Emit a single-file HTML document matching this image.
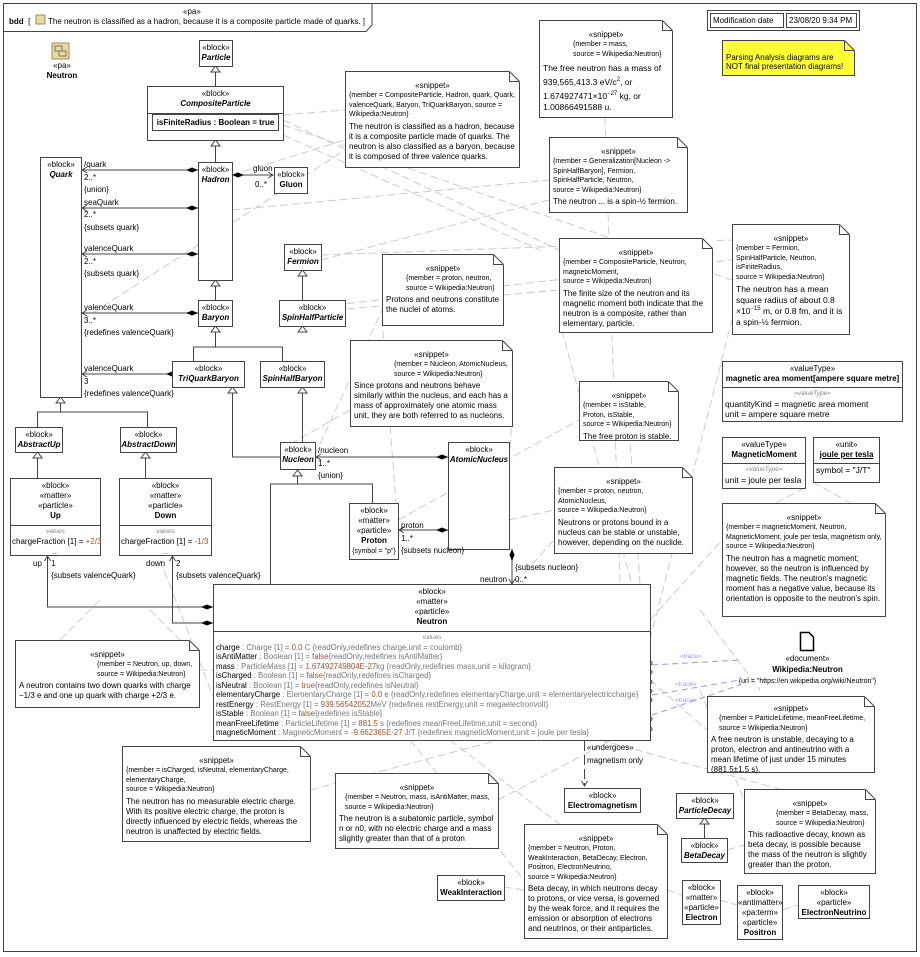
<!DOCTYPE html>
<html><head><meta charset="utf-8"><style>
*{margin:0;padding:0;box-sizing:border-box}
body{width:920px;height:957px;background:#fff;position:relative;overflow:hidden;font-family:"Liberation Sans",sans-serif;font-size:8px;color:#000}
sup{line-height:0;font-size:6px}
.a{position:absolute}
.b{position:absolute;border:1px solid #444;background:#fff;text-align:center;line-height:10px;padding-top:2px}
.b i{font-weight:bold}
.n{font-weight:bold}
.s{position:absolute;border:1px solid #444;background:#fff;line-height:10px;padding:3px 3px}
.s .h{text-align:center;margin-top:6px}
.s .m{font-size:7px;line-height:9.5px}
.s .t{font-size:8px;line-height:10px;margin-top:2px}
.f{position:absolute;right:-1px;top:-1px;width:11px;height:11px}
.c{border-top:1px solid #444;text-align:left;padding:1px 2px}
.g{color:#888;font-style:italic;font-size:6.5px;text-align:center}
.o{color:#a0522d}
.gr{color:#777}
</style></head><body>
<svg class="a" style="left:0;top:0" width="920" height="957">
<rect x="3.5" y="3.5" width="913" height="948" fill="none" stroke="#444"/>
<path d="M3.5,31.5 H366 L372,25 V3.5" fill="none" stroke="#444"/>
<g stroke="#ccc" stroke-dasharray="8,4" fill="none">
<path d="M283,115 L345,110"/><path d="M283,135 L540,250"/><path d="M232,175 L345,140"/>
<path d="M82,320 L345,150"/><path d="M232,210 L549,180"/><path d="M321,260 L549,200"/>
<path d="M335,310 L559,290"/><path d="M283,120 L559,250"/><path d="M650,650 L559,320"/>
<path d="M321,255 L732,240"/><path d="M335,305 L732,260"/><path d="M283,125 L732,280"/>
<path d="M650,640 L732,320"/><path d="M605,118 L620,584"/><path d="M315,455 L382,310"/>
<path d="M398,530 L382,320"/><path d="M280,450 L350,410"/><path d="M509,460 L512,420"/>
<path d="M398,520 L579,420"/><path d="M640,584 L630,440"/><path d="M509,520 L554,510"/>
<path d="M500,600 L554,540"/><path d="M650,620 L722,540"/><path d="M805,488 L722,530"/>
<path d="M813,482 L850,503"/><path d="M650,680 L707,730"/><path d="M199,670 L213,670"/>
<path d="M100,600 L60,640"/><path d="M150,610 L180,640"/><path d="M310,790 L650,700"/>
<path d="M498,800 L650,720"/><path d="M410,740 L524,880"/><path d="M504,887 L524,890"/>
<path d="M667,890 L682,895"/><path d="M720,900 L737,905"/><path d="M782,910 L798,905"/>
<path d="M727,850 L744,845"/><path d="M700,690 L744,800"/><path d="M160,560 L230,740"/>
<path d="M600,740 L820,800"/><path d="M450,740 L580,840"/><path d="M700,610 L760,690"/>
</g>
<g stroke="#99f" stroke-dasharray="6,4" fill="none"><path d="M652,665 L740,660"/><path d="M652,695 L740,680"/><path d="M652,715 L740,685"/></g>
<g font-size="6.5" fill="#99f" font-family="Liberation Sans"><text x="680" y="658">«trace»</text><text x="675" y="686">«trace»</text><text x="675" y="702">«trace»</text></g>
<g stroke="#444" fill="none">
<path d="M215.5,86 V66"/><path d="M215.5,162 V140"/><path d="M215.5,300 V280"/>
<path d="M302.5,300 V270"/>
<path d="M193.5,361 V347 H222.5 M215.5,347 V326 M222.5,347 H282.5 V361"/>
<path d="M232.5,387 V457 H280"/><path d="M302.5,387 V442"/>
<path d="M60.5,397 V412 M37.5,427 V412 H147.5 V427"/>
<path d="M37.5,452 V478"/><path d="M145.5,452 V478"/>
<path d="M297.5,470 V484 H270.5 V584 M297.5,484 H372.5 V503"/>
<path d="M704.5,838 V818"/>
<path d="M82,170 H198"/><path d="M82,208 H198"/><path d="M82,254 H198"/><path d="M82,313 H198"/><path d="M82,374 H178"/>
<path d="M232,175 H272"/>
<path d="M316,457 H448"/><path d="M399,530 H448"/>
<path d="M512,549 V584"/>
<path d="M47.5,556 V607 H213"/><path d="M172.5,556 V623 H213"/>
</g>
<g fill="#fff" stroke="#444">
<path d="M211,72 L215.5,66 L220,72Z"/>
<path d="M211,146 L215.5,140 L220,146Z"/><path d="M211,286 L215.5,280 L220,286Z"/>
<path d="M298,276 L302.5,270 L307,276Z"/><path d="M211,332 L215.5,326 L220,332Z"/>
<path d="M298,332 L302.5,326 L307,332Z"/><path d="M228,393 L232.5,387 L237,393Z"/>
<path d="M298,393 L302.5,387 L307,393Z"/><path d="M56,403 L60.5,397 L65,403Z"/>
<path d="M33,458 L37.5,452 L42,458Z"/><path d="M141,458 L145.5,452 L150,458Z"/>
<path d="M293,476 L297.5,470 L302,476Z"/><path d="M700,824 L704.5,818 L709,824Z"/>
</g>
<g fill="#000">
<path d="M198,170 l-6,-2.5 l-6,2.5 l6,2.5z"/><path d="M198,208 l-6,-2.5 l-6,2.5 l6,2.5z"/>
<path d="M198,254 l-6,-2.5 l-6,2.5 l6,2.5z"/><path d="M198,313 l-6,-2.5 l-6,2.5 l6,2.5z"/>
<path d="M178,374 l-6,-2.5 l-6,2.5 l6,2.5z"/><path d="M232,175 l6,-2.5 l6,2.5 l-6,2.5z"/>
<path d="M448,457 l-6,-2.5 l-6,2.5 l6,2.5z"/><path d="M448,530 l-6,-2.5 l-6,2.5 l6,2.5z"/>
<path d="M512,549 l-2.5,6 l2.5,6 l2.5,-6z"/>
<path d="M213,607 l-6,-2.5 l-6,2.5 l6,2.5z"/><path d="M213,623 l-6,-2.5 l-6,2.5 l6,2.5z"/>
</g>
<g stroke="#444" fill="none">
<path d="M87,167 L82,170 L87,173 M87,205 L82,208 L87,211 M87,251 L82,254 L87,257 M87,310 L82,313 L87,316 M87,371 L82,374 L87,377"/>
<path d="M268,172 L273,175 L268,178 M321,454 L316,457 L321,460 M404,527 L399,530 L404,533 M509,579 L512,584 L515,579"/>
<path d="M44.5,561 L47.5,556 L50.5,561 M169.5,561 L172.5,556 L175.5,561"/>
<path d="M584.5,741 V786" stroke-dasharray="10,4"/><path d="M581.5,781 L584.5,786 L587.5,781"/>
</g>
<path d="M800.5,632.5 H809 L813.5,637 V650.5 H800.5Z" fill="#fff" stroke="#000" stroke-width="1.5"/>
<g fill="#fff" stroke="#444"><circle cx="650" cy="663" r="2"/><circle cx="650" cy="672" r="2"/><circle cx="650" cy="682" r="2"/><circle cx="650" cy="691" r="2"/><circle cx="650" cy="700" r="2"/><circle cx="650" cy="719" r="2"/><circle cx="650" cy="729" r="2"/></g>
<rect x="52" y="43" width="17" height="16" fill="#e8d9a0" stroke="#a08c50"/>
<rect x="55" y="46" width="7" height="5" fill="none" stroke="#776"/><rect x="59" y="51" width="7" height="5" fill="none" stroke="#776"/>
<rect x="36" y="15" width="9" height="9" fill="#e8d9a0" stroke="#a08c50"/>
</svg>

<div class="a" style="left:183px;top:7px;">«pa»</div>
<div class="a" style="left:9px;top:17px;white-space:nowrap"><b>bdd</b> &nbsp;[ &nbsp;&nbsp;&nbsp;&nbsp;&nbsp;&nbsp; The neutron is classified as a hadron, because it is a composite particle made of quarks. ]</div>
<div class="a" style="left:44px;top:61px;width:36px;text-align:center;line-height:10px">«pa»<br><b>Neutron</b></div>

<div class="a" style="left:707px;top:10px;width:153px;height:21px;border:1px solid #444;white-space:nowrap">
<div class="a" style="left:2px;top:2px;width:74px;height:15px;border:1px solid #444;padding:2px 2px">Modification date</div>
<div class="a" style="left:78px;top:2px;width:71px;height:15px;border:1px solid #444;padding:2px 2px">23/08/20 9:34 PM</div></div>
<div class="s" style="left:722px;top:40px;width:133px;height:36px;background:#ffff33;padding-top:12px;line-height:9px">Parsing Analysis diagrams are NOT final presentation diagrams!<svg class="f"><path d="M0,0H11V11Z" fill="#fff"/><path d="M0.5,0.5V10.5H10.5M0.5,0.5L10.5,10.5" stroke="#444" fill="#ffff33"/></svg></div>

<div class="b" style="left:199px;top:40px;width:34px;height:27px">«block»<br><i>Particle</i></div>
<div class="b" style="left:147px;top:86px;width:137px;height:55px">«block»<br><i>CompositeParticle</i><div style="margin:5px 4px 0;border:1px solid #444;height:17px;padding-top:3px;font-weight:bold">isFiniteRadius : Boolean = true</div><div class="a" style="left:0;right:0;top:26px;border-top:1px solid #444"></div></div>
<div class="b" style="left:40px;top:157px;width:42px;height:241px">«block»<br><i>Quark</i></div>
<div class="b" style="left:198px;top:162px;width:35px;height:119px">«block»<br><i>Hadron</i></div>
<div class="b" style="left:274px;top:167px;width:34px;height:27px">«block»<br><b>Gluon</b></div>
<div class="b" style="left:284px;top:244px;width:38px;height:27px">«block»<br><i>Fermion</i></div>
<div class="b" style="left:198px;top:300px;width:35px;height:27px">«block»<br><i>Baryon</i></div>
<div class="b" style="left:279px;top:300px;width:67px;height:27px">«block»<br><i>SpinHalfParticle</i></div>
<div class="b" style="left:172px;top:361px;width:73px;height:27px">«block»<br><i>TriQuarkBaryon</i></div>
<div class="b" style="left:260px;top:361px;width:65px;height:27px">«block»<br><i>SpinHalfBaryon</i></div>
<div class="b" style="left:15px;top:427px;width:48px;height:26px">«block»<br><i>AbstractUp</i></div>
<div class="b" style="left:120px;top:427px;width:57px;height:26px">«block»<br><i>AbstractDown</i></div>
<div class="b" style="left:10px;top:478px;width:91px;height:78px">«block»<br>«matter»<br>«particle»<br><b>Up</b><div class="c" style="margin-top:4px;white-space:nowrap;padding:1px 1px"><div class="g">values</div>chargeFraction [1] = <span class="o">+2/3</span><div class="gr" style="text-align:center">...</div></div></div>
<div class="b" style="left:119px;top:478px;width:93px;height:78px">«block»<br>«matter»<br>«particle»<br><b>Down</b><div class="c" style="margin-top:4px;white-space:nowrap;padding:1px 1px"><div class="g">values</div>chargeFraction [1] = <span class="o">-1/3</span><div class="gr" style="text-align:center">...</div></div></div>
<div class="b" style="left:280px;top:442px;width:36px;height:28px">«block»<br><i>Nucleon</i></div>
<div class="b" style="left:448px;top:442px;width:62px;height:108px">«block»<br><i>AtomicNucleus</i></div>
<div class="b" style="left:349px;top:503px;width:50px;height:57px">«block»<br>«matter»<br>«particle»<br><b>Proton</b><br><span style="font-size:7px">{symbol = "p"}</span></div>
<div class="b" style="left:213px;top:584px;width:438px;height:157px">«block»<br>«matter»<br>«particle»<br><b>Neutron</b>
<div class="c" style="margin-top:4px;line-height:9.5px;font-size:7.8px;white-space:nowrap"><div class="g">values</div>
charge <span class="gr">: Charge [1] =</span> <span class="o">0.0</span> <span class="gr">C {readOnly,redefines charge,unit = coulomb}</span><br>
isAntiMatter <span class="gr">: Boolean [1] =</span> <span class="o">false</span><span class="gr">{readOnly,redefines isAntiMatter}</span><br>
mass <span class="gr">: ParticleMass [1] =</span> <span class="o">1.67492749804E-27</span><span class="gr">kg {readOnly,redefines mass,unit = kilogram}</span><br>
isCharged <span class="gr">: Boolean [1] =</span> <span class="o">false</span><span class="gr">{readOnly,redefines isCharged}</span><br>
isNeutral <span class="gr">: Boolean [1] =</span> <span class="o">true</span><span class="gr">{readOnly,redefines isNeutral}</span><br>
elementaryCharge <span class="gr">: ElementaryCharge [1] =</span> <span class="o">0.0</span> <span class="gr">e {readOnly,redefines elementaryCharge,unit = elementaryelectriccharge}</span><br>
restEnergy <span class="gr">: RestEnergy [1] =</span> <span class="o">939.56542052</span><span class="gr">MeV {redefines restEnergy,unit = megaelectronvolt}</span><br>
isStable <span class="gr">: Boolean [1] =</span> <span class="o">false</span><span class="gr">{redefines isStable}</span><br>
meanFreeLifetime <span class="gr">: ParticleLifetime [1] =</span> <span class="o">881.5</span> <span class="gr">s {redefines meanFreeLifetime,unit = second}</span><br>
magneticMoment <span class="gr">: MagneticMoment =</span> <span class="o">-9.662365E-27</span> <span class="gr">J/T {redefines magneticMoment,unit = joule per tesla}</span></div></div>

<div class="a" style="left:84px;top:159px;line-height:12.5px">/quark<br>2..*<br>{union}<br>seaQuark<br>2..*<br>{subsets quark}</div>
<div class="a" style="left:84px;top:243px;line-height:12.5px">valenceQuark<br>2..*<br>{subsets quark}</div>
<div class="a" style="left:84px;top:302px;line-height:12.5px">valenceQuark<br>3..*<br>{redefines valenceQuark}</div>
<div class="a" style="left:84px;top:363px;line-height:12.5px">valenceQuark<br>3<br>{redefines valenceQuark}</div>
<div class="a" style="left:253px;top:164px">gluon</div><div class="a" style="left:255px;top:180px">0..*</div>
<div class="a" style="left:318px;top:445px;line-height:12.5px">/nucleon<br>1..*<br>{union}</div>
<div class="a" style="left:401px;top:520px;line-height:12.5px">proton<br>1..*<br>{subsets nucleon}</div>
<div class="a" style="left:515px;top:563px">{subsets nucleon}</div>
<div class="a" style="left:480px;top:575px">neutron</div><div class="a" style="left:515px;top:575px">0..*</div>
<div class="a" style="left:33px;top:559px">up</div><div class="a" style="left:51px;top:559px">1</div><div class="a" style="left:51px;top:571px">{subsets valenceQuark}</div>
<div class="a" style="left:146px;top:559px">down</div><div class="a" style="left:176px;top:559px">2</div><div class="a" style="left:176px;top:571px">{subsets valenceQuark}</div>
<div class="a" style="left:587px;top:742px;line-height:12.5px">«undergoes»<br>magnetism only</div>

<div class="s" style="left:345px;top:71px;width:175px;height:97px"><div class="h">«snippet»</div><div class="m">{member = CompositeParticle, Hadron, quark, Quark, valenceQuark, Baryon, TriQuarkBaryon, source = Wikipedia:Neutron}</div><div class="t">The neutron is classified as a hadron, because it is a composite particle made of quarks. The neutron is also classified as a baryon, because it is composed of three valence quarks.</div><svg class="f"><path d="M0,0H11V11Z" fill="#fff"/><path d="M0.5,0.5V10.5H10.5M0.5,0.5L10.5,10.5" stroke="#444" fill="#fff"/></svg></div>
<div class="s" style="left:539px;top:20px;width:134px;height:98px"><div class="h">«snippet»</div><div class="m" style="padding-left:30px">{member = mass,<br>source = Wikipedia:Neutron}</div><div class="t" style="font-size:8.5px;line-height:14px">The free neutron has a mass of 939,565,413.3 eV/c<sup>2</sup>, or 1.674927471×10<sup>−27</sup> kg, or<br><span style="display:block;line-height:9px">1.00866491588 u.</span></div><svg class="f"><path d="M0,0H11V11Z" fill="#fff"/><path d="M0.5,0.5V10.5H10.5M0.5,0.5L10.5,10.5" stroke="#444" fill="#fff"/></svg></div>
<div class="s" style="left:549px;top:137px;width:139px;height:76px"><div class="h">«snippet»</div><div class="m">{member = Generalization[Nucleon -&gt; SpinHalfBaryon], Fermion,<br>SpinHalfParticle, Neutron,<br>source = Wikipedia:Neutron}</div><div class="t">The neutron ... is a spin-½ fermion.</div><svg class="f"><path d="M0,0H11V11Z" fill="#fff"/><path d="M0.5,0.5V10.5H10.5M0.5,0.5L10.5,10.5" stroke="#444" fill="#fff"/></svg></div>
<div class="s" style="left:382px;top:254px;width:122px;height:72px"><div class="h">«snippet»</div><div class="m" style="padding-left:20px">{member = proton, neutron,<br>source = Wikipedia:Neutron}</div><div class="t">Protons and neutrons constitute the nuclei of atoms.</div><svg class="f"><path d="M0,0H11V11Z" fill="#fff"/><path d="M0.5,0.5V10.5H10.5M0.5,0.5L10.5,10.5" stroke="#444" fill="#fff"/></svg></div>
<div class="s" style="left:559px;top:238px;width:154px;height:95px"><div class="h">«snippet»</div><div class="m">{member = CompositeParticle, Neutron, magneticMoment,<br>source = Wikipedia:Neutron}</div><div class="t">The finite size of the neutron and its magnetic moment both indicate that the neutron is a composite, rather than elementary, particle.</div><svg class="f"><path d="M0,0H11V11Z" fill="#fff"/><path d="M0.5,0.5V10.5H10.5M0.5,0.5L10.5,10.5" stroke="#444" fill="#fff"/></svg></div>
<div class="s" style="left:732px;top:224px;width:118px;height:111px"><div class="h">«snippet»</div><div class="m">{member = Fermion,<br>SpinHalfParticle, Neutron,<br>isFiniteRadius,<br>source = Wikipedia:Neutron}</div><div class="t" style="font-size:8.5px;line-height:11px">The neutron has a mean square radius of about 0.8 ×10<sup>−15</sup> m, or 0.8 fm, and it is a spin-½ fermion.</div><svg class="f"><path d="M0,0H11V11Z" fill="#fff"/><path d="M0.5,0.5V10.5H10.5M0.5,0.5L10.5,10.5" stroke="#444" fill="#fff"/></svg></div>
<div class="s" style="left:350px;top:340px;width:163px;height:87px"><div class="h">«snippet»</div><div class="m" style="padding-left:40px">{member = Nucleon, AtomicNucleus,<br>source = Wikipedia:Neutron}</div><div class="t">Since protons and neutrons behave similarly within the nucleus, and each has a mass of approximately one atomic mass unit, they are both referred to as nucleons.</div><svg class="f"><path d="M0,0H11V11Z" fill="#fff"/><path d="M0.5,0.5V10.5H10.5M0.5,0.5L10.5,10.5" stroke="#444" fill="#fff"/></svg></div>
<div class="s" style="left:579px;top:381px;width:100px;height:60px"><div class="h">«snippet»</div><div class="m">{member = isStable,<br>Proton, isStable,<br>source = Wikipedia:Neutron}</div><div class="t">The free proton is stable.</div><svg class="f"><path d="M0,0H11V11Z" fill="#fff"/><path d="M0.5,0.5V10.5H10.5M0.5,0.5L10.5,10.5" stroke="#444" fill="#fff"/></svg></div>
<div class="s" style="left:554px;top:467px;width:139px;height:87px"><div class="h">«snippet»</div><div class="m">{member = proton, neutron,<br>AtomicNucleus,<br>source = Wikipedia:Neutron}</div><div class="t">Neutrons or protons bound in a nucleus can be stable or unstable, however, depending on the nuclide.</div><svg class="f"><path d="M0,0H11V11Z" fill="#fff"/><path d="M0.5,0.5V10.5H10.5M0.5,0.5L10.5,10.5" stroke="#444" fill="#fff"/></svg></div>

<div class="b" style="left:722px;top:361px;width:181px;height:61px">«valueType»<br><b>magnetic area moment[ampere square metre]</b><div class="c" style="margin-top:3px;font-size:8.5px;line-height:10px"><div class="g">«valueType»</div>quantityKind = magnetic area moment<br>unit = ampere square metre</div></div>
<div class="b" style="left:722px;top:437px;width:84px;height:52px">«valueType»<br><b>MagneticMoment</b><div class="c" style="margin-top:3px;font-size:8.5px"><div class="g">«valueType»</div>unit = joule per tesla</div></div>
<div class="b" style="left:813px;top:437px;width:67px;height:46px">«unit»<br><b style="text-decoration:underline">joule per tesla</b><div class="c" style="margin-top:3px;font-size:8.5px">symbol = "J/T"</div></div>
<div class="s" style="left:722px;top:503px;width:164px;height:114px"><div class="h">«snippet»</div><div class="m">{member = magneticMoment, Neutron, MagneticMoment, joule per tesla, magnetism only,<br>source = Wikipedia:Neutron}</div><div class="t">The neutron has a magnetic moment, however, so the neutron is influenced by magnetic fields. The neutron's magnetic moment has a negative value, because its orientation is opposite to the neutron's spin.</div><svg class="f"><path d="M0,0H11V11Z" fill="#fff"/><path d="M0.5,0.5V10.5H10.5M0.5,0.5L10.5,10.5" stroke="#444" fill="#fff"/></svg></div>
<div class="a" style="left:730px;top:653px;width:155px;text-align:center;line-height:11px;white-space:nowrap">«document»<br><b>Wikipedia:Neutron</b><br><span style="font-size:7px">{url = "https://en.wikipedia.org/wiki/Neutron"}</span></div>
<div class="s" style="left:707px;top:696px;width:168px;height:77px;padding-top:1px"><div class="h">«snippet»</div><div class="m" style="padding-left:8px">{member = ParticleLifetime, meanFreeLifetime,<br>source = Wikipedia:Neutron}</div><div class="t">A free neutron is unstable, decaying to a proton, electron and antineutrino with a mean lifetime of just under 15 minutes (881.5±1.5 s).</div><svg class="f"><path d="M0,0H11V11Z" fill="#fff"/><path d="M0.5,0.5V10.5H10.5M0.5,0.5L10.5,10.5" stroke="#444" fill="#fff"/></svg></div>
<div class="s" style="left:15px;top:640px;width:185px;height:68px"><div class="h">«snippet»</div><div class="m" style="padding-left:78px">{member = Neutron, up, down,<br>source = Wikipedia:Neutron}</div><div class="t">A neutron contains two down quarks with charge −1/3 e and one up quark with charge +2/3 e.</div><svg class="f"><path d="M0,0H11V11Z" fill="#fff"/><path d="M0.5,0.5V10.5H10.5M0.5,0.5L10.5,10.5" stroke="#444" fill="#fff"/></svg></div>
<div class="s" style="left:122px;top:746px;width:189px;height:96px"><div class="h">«snippet»</div><div class="m">{member = isCharged, isNeutral, elementaryCharge, elementaryCharge,<br>source = Wikipedia:Neutron}</div><div class="t">The neutron has no measurable electric charge. With its positive electric charge, the proton is directly influenced by electric fields, whereas the neutron is unaffected by electric fields.</div><svg class="f"><path d="M0,0H11V11Z" fill="#fff"/><path d="M0.5,0.5V10.5H10.5M0.5,0.5L10.5,10.5" stroke="#444" fill="#fff"/></svg></div>
<div class="s" style="left:335px;top:773px;width:164px;height:76px"><div class="h">«snippet»</div><div class="m" style="padding-left:6px">{member = Neutron, mass, isAntiMatter, mass,<br>source = Wikipedia:Neutron}</div><div class="t">The neutron is a subatomic particle, symbol n or n0, with no electric charge and a mass slightly greater than that of a proton</div><svg class="f"><path d="M0,0H11V11Z" fill="#fff"/><path d="M0.5,0.5V10.5H10.5M0.5,0.5L10.5,10.5" stroke="#444" fill="#fff"/></svg></div>
<div class="b" style="left:564px;top:788px;width:77px;height:25px">«block»<br><b>Electromagnetism</b></div>
<div class="b" style="left:676px;top:793px;width:58px;height:26px">«block»<br><i>ParticleDecay</i></div>
<div class="b" style="left:681px;top:838px;width:47px;height:25px">«block»<br><i>BetaDecay</i></div>
<div class="s" style="left:744px;top:789px;width:132px;height:85px"><div class="h">«snippet»</div><div class="m" style="padding-left:28px">{member = BetaDecay, mass,<br>source = Wikipedia:Neutron}</div><div class="t">This radioactive decay, known as beta decay, is possible because the mass of the neutron is slightly greater than the proton.</div><svg class="f"><path d="M0,0H11V11Z" fill="#fff"/><path d="M0.5,0.5V10.5H10.5M0.5,0.5L10.5,10.5" stroke="#444" fill="#fff"/></svg></div>
<div class="s" style="left:524px;top:824px;width:144px;height:115px"><div class="h">«snippet»</div><div class="m">{member = Neutron, Proton, WeakInteraction, BetaDecay, Electron, Positron, ElectronNeutrino,<br>source = Wikipedia:Neutron}</div><div class="t">Beta decay, in which neutrons decay to protons, or vice versa, is governed by the weak force, and it requires the emission or absorption of electrons and neutrinos, or their antiparticles.</div><svg class="f"><path d="M0,0H11V11Z" fill="#fff"/><path d="M0.5,0.5V10.5H10.5M0.5,0.5L10.5,10.5" stroke="#444" fill="#fff"/></svg></div>
<div class="b" style="left:437px;top:875px;width:68px;height:26px">«block»<br><b>WeakInteraction</b></div>
<div class="b" style="left:682px;top:880px;width:39px;height:45px">«block»<br>«matter»<br>«particle»<br><b>Electron</b></div>
<div class="b" style="left:737px;top:885px;width:46px;height:55px">«block»<br>«antimatter»<br>«pa:term»<br>«particle»<br><b>Positron</b></div>
<div class="b" style="left:798px;top:885px;width:72px;height:34px">«block»<br>«particle»<br><b>ElectronNeutrino</b></div>
</body></html>
